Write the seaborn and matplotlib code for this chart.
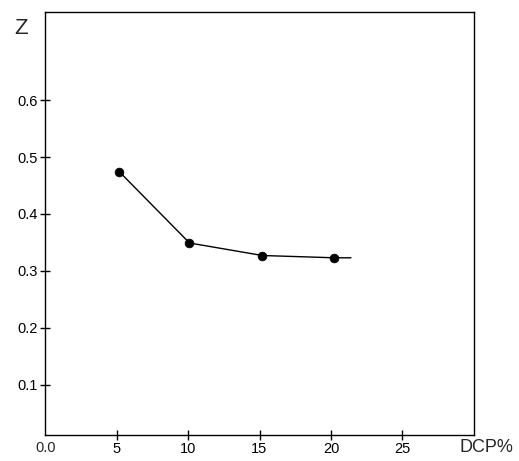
import pandas as pd
import seaborn as sns
import matplotlib.pyplot as plt

# DCP content (%) and Z values
dcp = [5.2, 10.1, 15.2, 20.2]
z = [0.474, 0.349, 0.327, 0.323]
# the curve runs on a little past the last measured point
line_dcp = dcp + [21.4]
line_z = z + [0.323]

x_ticks = [5, 10, 15, 20, 25]
x_labels = ["5", "10", "15", "20", "25"]
y_ticks = [0.1, 0.2, 0.3, 0.4, 0.5, 0.6]
y_labels = ["0.1", "0.2", "0.3", "0.4", "0.5", "0.6"]

sns.set_style("white")
plt.rcParams['font.family'] = ['Liberation Sans', 'DejaVu Sans']

fig = plt.figure(figsize=(5.19, 4.61), dpi=100)
ax = fig.add_axes([0.087, 0.057, 0.826, 0.917])

sns.lineplot(x=line_dcp, y=line_z, color="black", linewidth=1.0, ax=ax)
sns.scatterplot(x=dcp, y=z, color="black", s=40, edgecolor="black", zorder=3, ax=ax)

ax.set_xlim(0, 30)
ax.set_ylim(0.012, 0.755)
ax.set_xticks(x_ticks)
ax.set_xticklabels(x_labels)
ax.set_yticks(y_ticks)
ax.set_yticklabels(y_labels)
ax.tick_params(bottom=True, left=True, direction="inout", length=7, width=1,
               labelsize=10.5, colors="black")
ax.tick_params(axis="x", pad=2)
ax.tick_params(axis="y", pad=2)
for s in ax.spines.values():
    s.set_color("black")
    s.set_linewidth(1.0)

ax.text(0, -0.014, "0.0", transform=ax.get_xaxis_transform(), ha="center", va="top", fontsize=10.5)
ax.text(-0.04, 0.96, "Z", transform=ax.transAxes, ha="right", va="center", fontsize=16)
ax.text(1.03, -0.03, "DCP%", transform=ax.transAxes, ha="center", va="center", fontsize=13)

plt.savefig("out.png", dpi=100)
